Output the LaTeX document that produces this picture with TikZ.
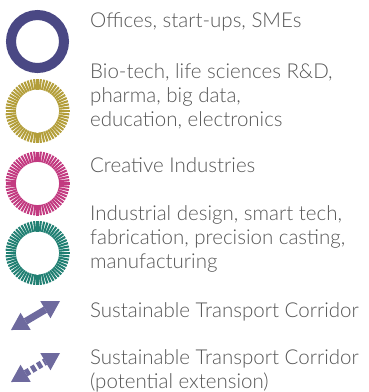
\documentclass[tikz,border=0pt]{standalone}
\usepackage{fontspec}
\IfFontExistsTF{Lato Light}{\setmainfont{Lato Light}}{\setmainfont{Lato}}
\usepackage{tikz}
\usetikzlibrary{arrows.meta}
\usetikzlibrary{positioning}

\definecolor{navy}{HTML}{4A4884}
\definecolor{gold}{HTML}{B39E3A}
\definecolor{berry}{HTML}{C23A80}
\definecolor{teal}{HTML}{207F72}
\definecolor{lilac}{HTML}{6E6A9E}
\definecolor{txt}{HTML}{555555}

\begin{document}
\begin{tikzpicture}[x=1pt, y=-1pt,
    lbl/.style={anchor=base west, inner sep=0pt, align=left, text=txt,
        font=\fontsize{20.5}{24}\selectfont},
    corridor/.style={draw=lilac, line width=7pt,
        {Triangle[length=17pt, width=20pt, line width=0pt]}-{Triangle[length=17pt, width=20pt, line width=0pt]}}]
            \useasboundingbox (0,0) rectangle (369,392);
            % rings
            \coordinate (R1) at (37.5, 41.5);
            \draw[navy, line width=10pt] (R1) circle[radius=26.5pt];
            \foreach \c/\y[count=\i from 2] in {gold/111, berry/183.5, teal/253}
            {
                \coordinate (R\i) at (37.5, \y);
                \foreach \a in {0,6,...,354}
                    \draw[\c, line width=2.1pt] (R\i) ++(\a:21.5pt) -- ++(\a:10.5pt);
            }
            % corridors
            \coordinate (C1a) at (11, 330);
            \coordinate (C1b) at (60, 301);
            \draw[corridor] (C1a) -- (C1b);
            \coordinate (C2a) at (11, 382);
            \coordinate (C2b) at (60, 353);
            \draw[corridor, dash pattern=on 4.5pt off 2.5pt] (C2a) -- (C2b);
            % labels (base = last line)
            \node[lbl] (offices) at (90, 27) {Offices, start-ups, SMEs};
            \node[lbl] (biotech) at (90, 126) {Bio-tech, life sciences R\&D,\\pharma, big data,\\education, electronics};
            \node[lbl] (creative) at (90, 172) {Creative Industries};
            \node[lbl] (industrial) at (90, 268) {Industrial design, smart tech,\\fabrication, precision casting,\\manufacturing};
            \node[lbl] (transport) at (90, 317) {Sustainable Transport Corridor};
            \node[lbl] (extension) at (90, 388) {Sustainable Transport Corridor\\(potential extension)};
        \end{tikzpicture}
\end{document}
